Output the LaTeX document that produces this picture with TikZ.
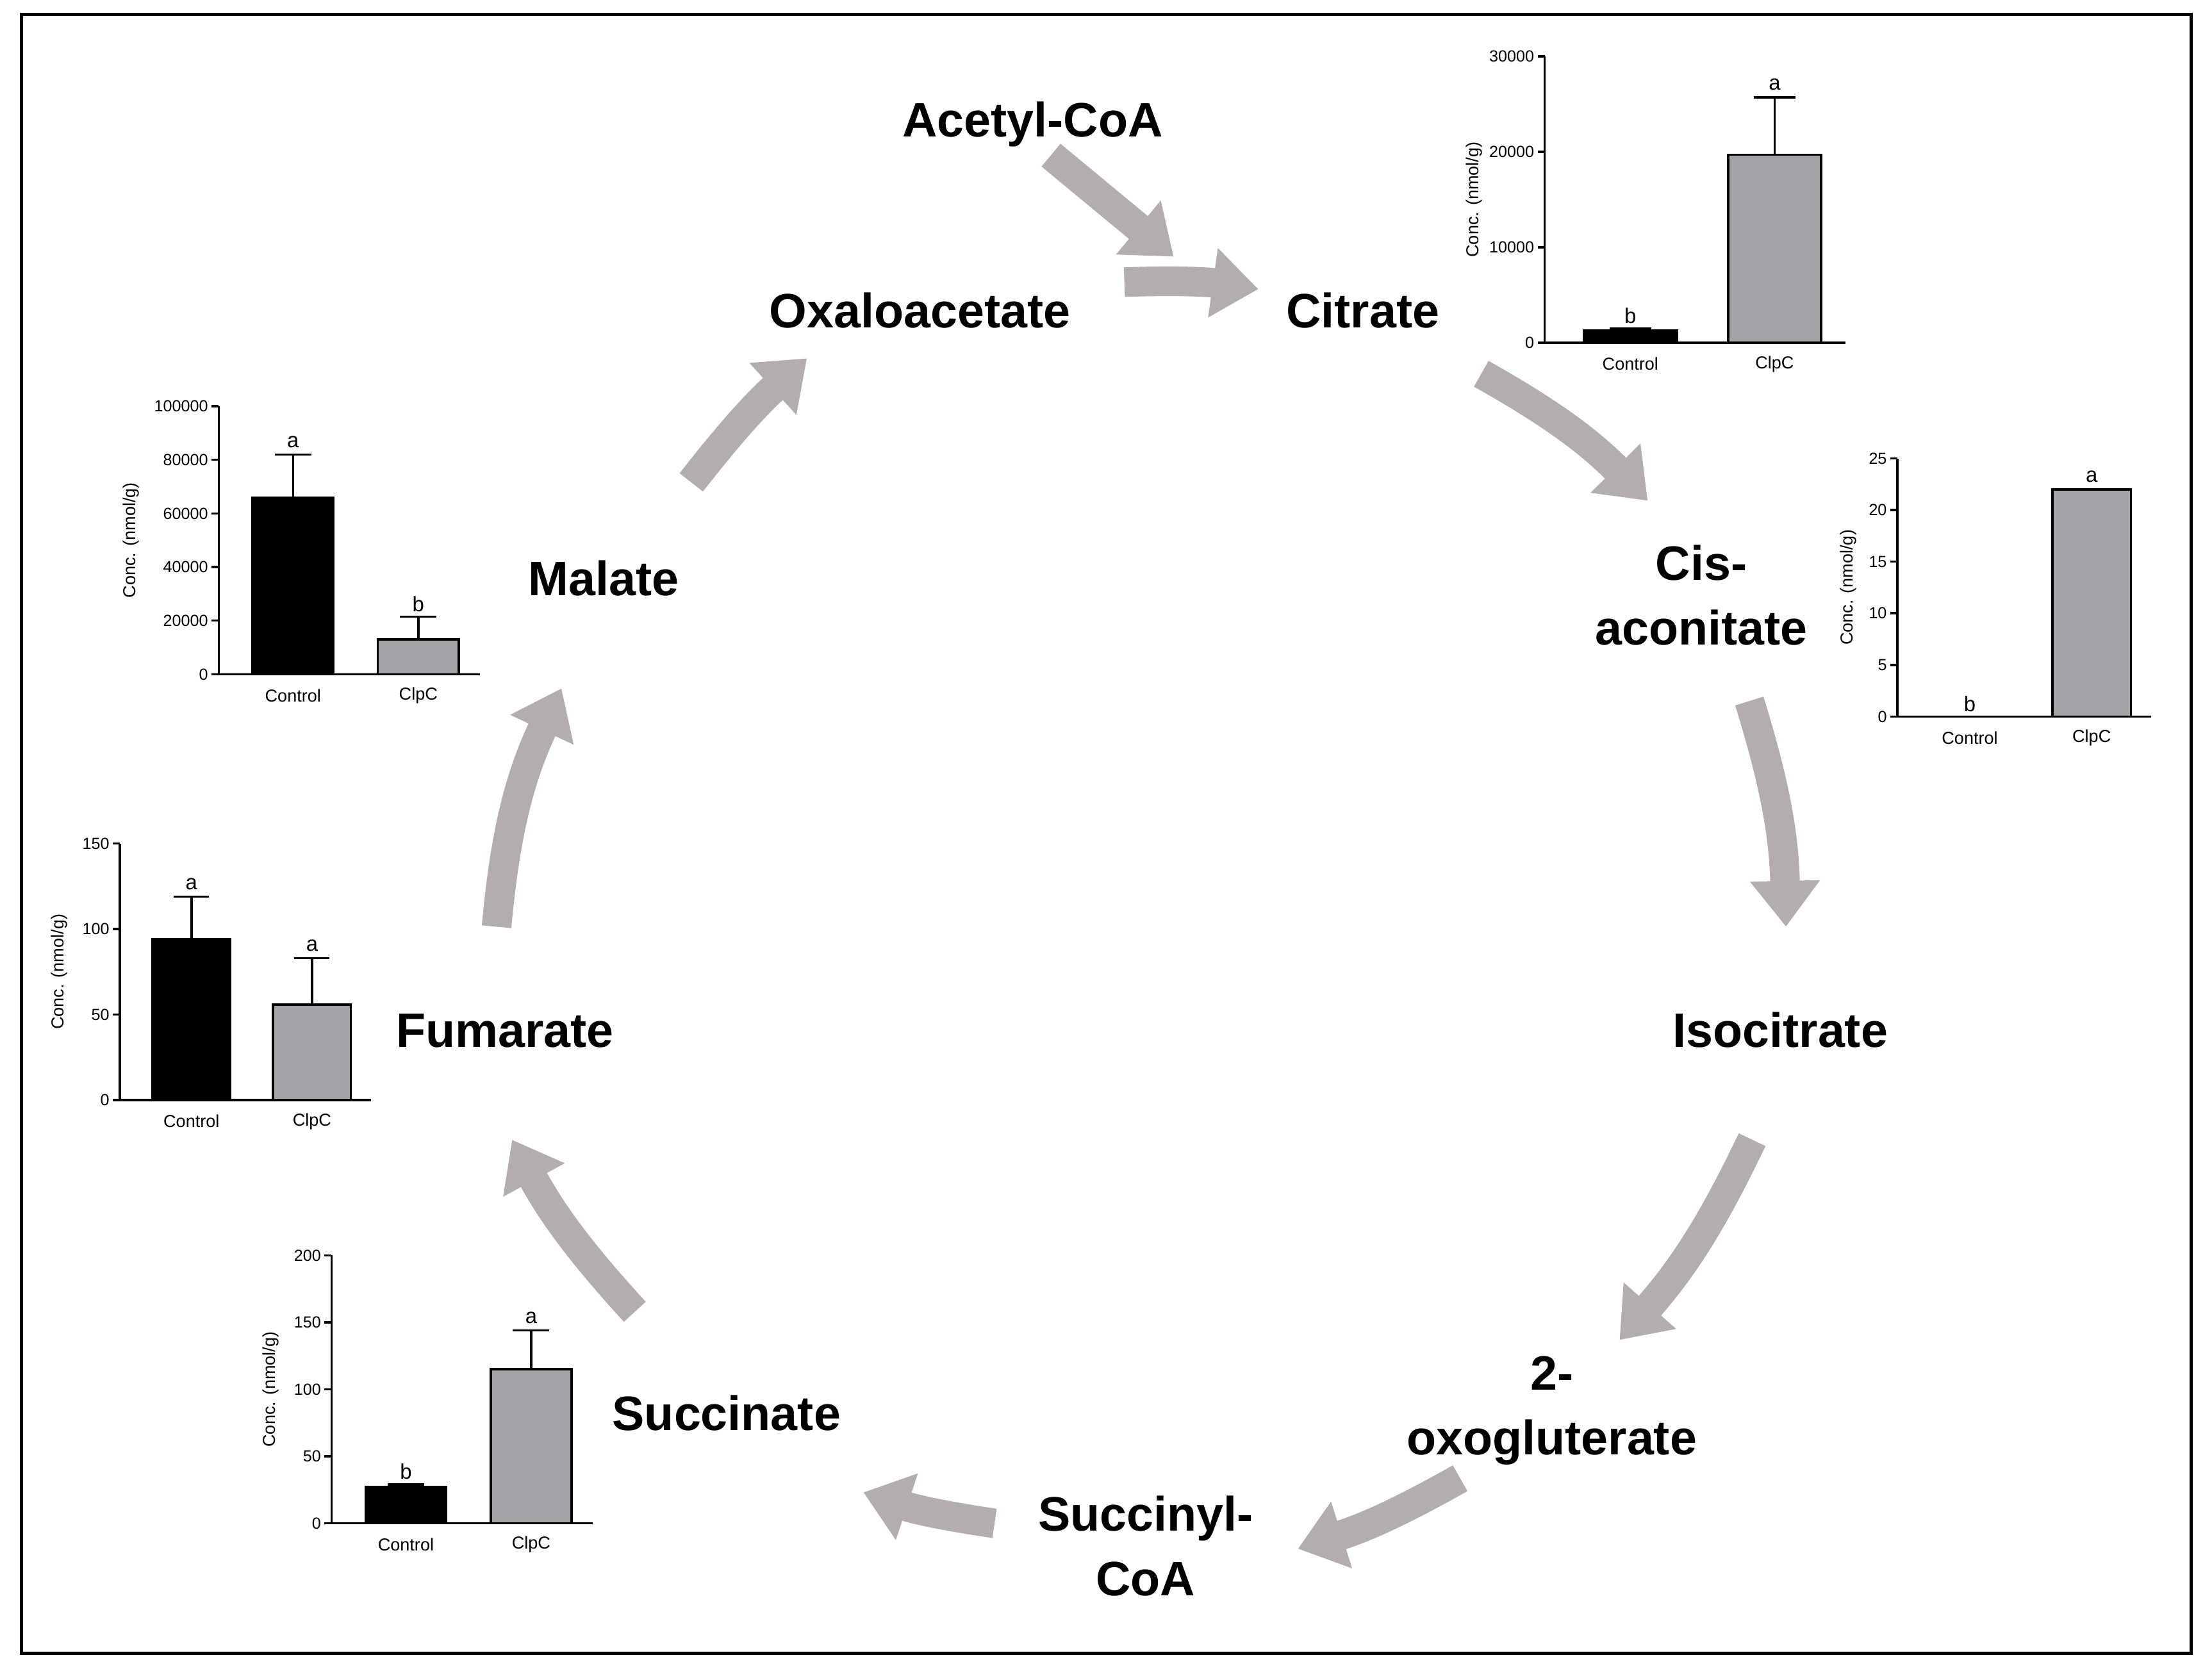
\documentclass[tikz,border=0pt]{standalone}
\usepackage{fontspec}
\setmainfont{Liberation Sans}
\usetikzlibrary{arrows.meta}
\definecolor{arr}{HTML}{B3ADAD}
\definecolor{clp}{HTML}{A3A3A8}
\tikzset{
 flow/.style={draw=arr,line width=0.42cm,-{Triangle[width=0.95cm,length=0.65cm]}},
 met/.style={font=\fontsize{19.5}{21}\selectfont\bfseries,align=center,inner sep=1pt},
 axis/.style={line width=0.9pt},
 tick/.style={font=\fontsize{6.5}{7}\selectfont,inner sep=1pt},
 cat/.style={font=\fontsize{7}{8}\selectfont,inner sep=0pt},
 ylab/.style={font=\fontsize{7}{8}\selectfont,inner sep=0pt},
 lett/.style={font=\fontsize{8.5}{9}\selectfont,inner sep=0pt},
 bar/.style={line width=0.9pt}
}
\newcommand\chartaxes[7]{%
 \def\cX{#1}\def\cY{#2}\def\cH{#3}\def\cW{#4}%
 \draw[axis] (#1,#2-#3) -- (#1,#2) -- (#1+#4,#2);
 \foreach \i in {0,...,#5}{%
  \pgfmathsetmacro\yy{#2-#3*\i/#5}%
  \draw[axis] (#1,\yy) -- (#1-5,\yy) node[left,tick]{\the\numexpr\i*#6\relax};}
 \node[ylab,rotate=90] at (#1-#7,#2-#3/2) {Conc. (nmol/g)};
 \node[cat] at (#1+0.285*#4,#2+15) {Control};
 \node[cat] at (#1+0.765*#4,#2+15) {ClpC};
}
\newcommand\chartbars[7]{%
 \ifnum#7=1
 \draw[axis] (\cX+0.285*\cW,\cY-\cH*#1) -- (\cX+0.285*\cW,\cY-\cH*#2);
 \draw[axis] (\cX+0.215*\cW,\cY-\cH*#2) -- (\cX+0.355*\cW,\cY-\cH*#2);
 \draw[axis] (\cX+0.765*\cW,\cY-\cH*#3) -- (\cX+0.765*\cW,\cY-\cH*#4);
 \draw[axis] (\cX+0.695*\cW,\cY-\cH*#4) -- (\cX+0.835*\cW,\cY-\cH*#4);
 \fi
 \draw[bar,fill=black] (\cX+0.13*\cW,\cY) rectangle (\cX+0.44*\cW,\cY-\cH*#1);
 \draw[bar,fill=clp] (\cX+0.61*\cW,\cY) rectangle (\cX+0.92*\cW,\cY-\cH*#3);
 \node[lett] at (\cX+0.285*\cW,\cY-\cH*#2-9) {#5};
 \node[lett] at (\cX+0.765*\cW,\cY-\cH*#4-9) {#6};
}
\begin{document}
\begin{tikzpicture}[x=0.02cm,y=-0.02cm]
\path[use as bounding box,fill=white] (0,0) rectangle (1568,1183);
\draw[line width=1.3pt] (15,10) rectangle (1553,1172);
% metabolites
\node[met] (acoa) at (732,88) {Acetyl-CoA};
\node[met] (oaa) at (652,220) {Oxaloacetate};
\node[met] (cit) at (966,220) {Citrate};
\node[met] (cis) at (1206,422) {Cis-\\[5pt]aconitate};
\node[met] (iso) at (1262,730) {Isocitrate};
\node[met] (oxo) at (1100,1000) {2-\\[5pt]oxogluterate};
\node[met] (scoa) at (812,1096) {Succinyl-\\[5pt]CoA};
\node[met] (suc) at (515,1002) {Succinate};
\node[met] (fum) at (358,731) {Fumarate};
\node[met] (mal) at (428,410) {Malate};
% arrow ends
\coordinate (a1) at (745,110); \coordinate (b1) at (832,182);
\coordinate (a2) at (797,200); \coordinate (b2) at (892,205);
\coordinate (a3) at (1050,265); \coordinate (b3) at (1168,355);
\coordinate (a4) at (1240,497); \coordinate (b4) at (1266,657);
\coordinate (a5) at (1242,808); \coordinate (b5) at (1148,950);
\coordinate (a6) at (1035,1048); \coordinate (b6) at (920,1098);
\coordinate (a7) at (705,1080); \coordinate (b7) at (612,1058);
\coordinate (a8) at (450,930); \coordinate (b8) at (363,808);
\coordinate (a9) at (352,657); \coordinate (b9) at (398,488);
\coordinate (a10) at (490,342); \coordinate (b10) at (572,254);
\draw[flow] (a1) -- (b1);
\draw[flow] (a2) to[bend left=5] (b2);
\draw[flow] (a3) to[bend left=8] (b3);
\draw[flow] (a4) to[bend left=8] (b4);
\draw[flow] (a5) to[bend left=8] (b5);
\draw[flow] (a6) to[bend left=6] (b6);
\draw[flow] (a7) to[bend left=5] (b7);
\draw[flow] (a8) to[bend left=7] (b8);
\draw[flow] (a9) to[bend left=10] (b9);
\draw[flow] (a10) to[bend left=5] (b10);
% charts
\chartaxes{1095}{243}{203}{213}{3}{10000}{50}
\chartbars{0.043}{0.05}{0.657}{0.857}{b}{a}{1}
\chartaxes{1345}{508}{183}{180}{5}{5}{35}
\chartbars{0}{0}{0.88}{0.88}{b}{a}{0}
\chartaxes{155}{478}{190}{185}{5}{20000}{62}
\chartbars{0.66}{0.82}{0.13}{0.215}{a}{b}{1}
\chartaxes{85}{780}{182}{178}{3}{50}{43}
\chartbars{0.627}{0.793}{0.373}{0.553}{a}{a}{1}
\chartaxes{235}{1080}{190}{185}{4}{50}{43}
\chartbars{0.135}{0.145}{0.575}{0.72}{b}{a}{1}
\end{tikzpicture}
\end{document}
